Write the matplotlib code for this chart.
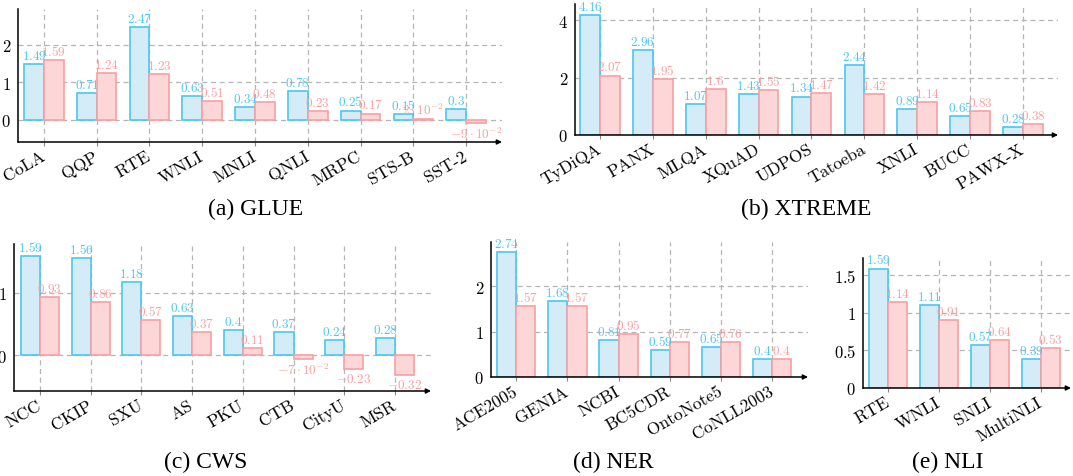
import numpy as np
import matplotlib
matplotlib.use("Agg")
import matplotlib.pyplot as plt

plt.rcParams['mathtext.fontset'] = 'cm'
plt.rcParams['font.family'] = ['cmr10', 'DejaVu Serif']
plt.rcParams['axes.unicode_minus'] = False

# Datos
glue_cats = ['CoLA', 'QQP', 'RTE', 'WNLI', 'MNLI', 'QNLI', 'MRPC', 'STS-B', 'SST-2']
glue_blue = [1.49, 0.71, 2.47, 0.63, 0.34, 0.78, 0.25, 0.15, 0.3]
glue_red = [1.59, 1.24, 1.23, 0.51, 0.48, 0.23, 0.17, 0.02, -0.09]

xtreme_cats = ['TyDiQA', 'PANX', 'MLQA', 'XQuAD', 'UDPOS', 'Tatoeba', 'XNLI', 'BUCC', 'PAWX-X']
xtreme_blue = [4.16, 2.96, 1.07, 1.43, 1.34, 2.44, 0.89, 0.65, 0.28]
xtreme_red = [2.07, 1.95, 1.6, 1.55, 1.47, 1.42, 1.14, 0.83, 0.38]

cws_cats = ['NCC', 'CKIP', 'SXU', 'AS', 'PKU', 'CTB', 'CityU', 'MSR']
cws_blue = [1.59, 1.56, 1.18, 0.63, 0.4, 0.37, 0.24, 0.28]
cws_red = [0.93, 0.86, 0.57, 0.37, 0.11, -0.07, -0.23, -0.32]

ner_cats = ['ACE2005', 'GENIA', 'NCBI', 'BC5CDR', 'OntoNote5', 'CoNLL2003']
ner_blue = [2.74, 1.68, 0.81, 0.59, 0.65, 0.4]
ner_red = [1.57, 1.57, 0.95, 0.77, 0.76, 0.4]

nli_cats = ['RTE', 'WNLI', 'SNLI', 'MultiNLI']
nli_blue = [1.59, 1.11, 0.57, 0.39]
nli_red = [1.14, 0.91, 0.64, 0.53]

BLUE_EDGE = '#4cc6f0'
BLUE_FILL = '#d4ebf8'
RED_EDGE = '#f8a0a2'
RED_FILL = '#fdd6d8'

W, H = 1073, 477
fig = plt.figure(figsize=(W / 100, H / 100), dpi=100)


def fmt(v):
    if v != 0 and abs(v) < 0.1:
        m = int(round(v * 100))
        return r'$%d\cdot10^{-2}$' % m
    s = ('%.2f' % v).rstrip('0').rstrip('.')
    return '$' + s + '$'


def panel(box, cats, blue, red, xlim, ylim, yticks, yticklabels, caption, cap_xy):
    left, right, top, bottom = box
    ax = fig.add_axes([left / W, 1 - bottom / H, (right - left) / W, (bottom - top) / H])
    x = np.arange(len(cats))
    bw = 0.375
    ax.bar(x - bw / 2, blue, bw, color=BLUE_FILL, edgecolor=BLUE_EDGE, linewidth=1.2, zorder=3)
    ax.bar(x + bw / 2, red, bw, color=RED_FILL, edgecolor=RED_EDGE, linewidth=1.2, zorder=3)

    # Etiquetas de valor sobre (o bajo) cada barra
    for xs, vals, col in [(x - bw / 2, blue, BLUE_EDGE), (x + bw / 2, red, RED_EDGE)]:
        for xi, v in zip(xs, vals):
            if v >= 0:
                ax.annotate(fmt(v), (xi, v), xytext=(0, 1.5), textcoords='offset points',
                            ha='center', va='bottom', fontsize=9.5, color=col, zorder=4)
            else:
                ax.annotate(fmt(v), (xi, v), xytext=(0, -2), textcoords='offset points',
                            ha='center', va='top', fontsize=9.5, color=col, zorder=4)

    ax.set_xlim(*xlim)
    ax.set_ylim(*ylim)
    ax.set_axisbelow(True)
    for y in yticks:
        ax.axhline(y, color='#b5b5b5', linestyle=(0, (4, 3)), linewidth=0.9, zorder=1)
    for xi in x:
        ax.axvline(xi, color='#b5b5b5', linestyle=(0, (4, 3)), linewidth=0.9, zorder=1)

    ax.set_xticks(x)
    ax.set_xticklabels(cats, rotation=30, ha='right', va='center',
                       rotation_mode='anchor', fontsize=12.5)
    ax.set_yticks(yticks)
    ax.set_yticklabels(['$' + t + '$' for t in yticklabels], fontsize=12)
    ax.tick_params(axis='x', length=3, width=0.8, color='#888888', pad=6)
    ax.tick_params(axis='y', length=0, pad=5)

    ax.spines['top'].set_visible(False)
    ax.spines['right'].set_visible(False)
    ax.spines['bottom'].set_visible(False)
    ax.spines['left'].set_linewidth(1.1)
    ax.set_facecolor('none')
    ax.annotate('', xy=(1.0, 0), xytext=(0, 0), xycoords='axes fraction',
                arrowprops=dict(arrowstyle='-|>', lw=1.1, color='black',
                                mutation_scale=7, shrinkA=0, shrinkB=0))

    fig.text(cap_xy[0] / W, 1 - cap_xy[1] / H, caption, ha='center', va='center',
             fontsize=17, family=['Liberation Serif', 'DejaVu Serif'])
    return ax


panel((18, 502, 10, 143), glue_cats, glue_blue, glue_red,
      (-0.49, 8.68), (-0.59, 2.96), [0, 1, 2], ['0', '1', '2'], '(a) GLUE', (256, 209))
panel((575, 1058, 5, 136), xtreme_cats, xtreme_blue, xtreme_red,
      (-0.47, 8.66), (0, 4.56), [0, 2, 4], ['0', '2', '4'], '(b) XTREME', (806, 209))
panel((14, 431, 245, 392), cws_cats, cws_blue, cws_red,
      (-0.51, 7.71), (-0.58, 1.79), [0, 1], ['0', '1'], '(c) CWS', (206, 462))
panel((491, 808, 243, 378), ner_cats, ner_blue, ner_red,
      (-0.49, 5.70), (0, 2.97), [0, 1, 2], ['0', '1', '2'], '(d) NER', (613, 462))
panel((863, 1071, 259, 389), nli_cats, nli_blue, nli_red,
      (-0.49, 3.59), (0, 1.73), [0, 0.5, 1, 1.5], ['0', '0.5', '1', '1.5'], '(e) NLI', (948, 462))

plt.savefig('out.png', dpi=100)
